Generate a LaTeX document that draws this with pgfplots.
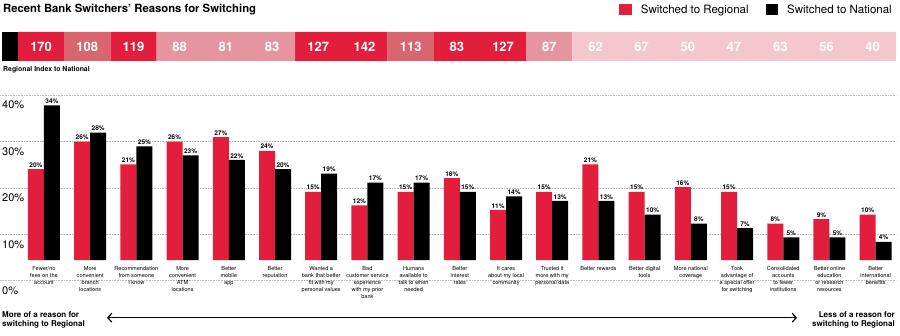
\documentclass[border=0pt]{standalone}
\usepackage{fontspec}
\setmainfont{TeX Gyre Heros}
\usepackage{pgfplots}
\usepackage{pgfplotstable}
\pgfplotsset{compat=1.18}
\usetikzlibrary{arrows.meta}
\definecolor{sred}{HTML}{E21E3C}
\definecolor{mred}{HTML}{D9656F}
\definecolor{lred}{HTML}{E5959E}
\definecolor{xred}{HTML}{F4C7CD}
\pgfplotsset{/pgf/number format/assume math mode=true}

\pgfplotstableread{
x reg nat
0 20 34
1 26 28
2 21 25
3 26 23
4 27 22
5 24 20
6 15 19
7 12 17
8 15 17
9 18 15
10 11 14
11 15 13
12 21 13
13 15 10
14 16 8
15 15 7
16 8 5
17 9 5
18 10 4
}\bars

\begin{document}
\begin{tikzpicture}
\path[use as bounding box] (0,0) rectangle (900pt,335pt);

% grid axis
\begin{axis}[
  at={(0pt,54.3pt)}, anchor=south west, scale only axis,
  width=896pt, height=185.7pt,
  xmin=0, xmax=1, ymin=0, ymax=40,
  xtick=\empty, ytick={0,10,20,30,40},
  ymajorgrids, grid style={gray!55, line width=0.6pt, dash pattern=on 0.8pt off 0.8pt},
  axis line style={draw=none}, major tick length=0pt,
  yticklabel={\pgfmathprintnumber{\tick}\%},
  yticklabel style={anchor=west, inner sep=0pt, xshift=2pt, yshift=-10pt, font=\fontsize{11}{11}\selectfont},
  clip=false,
]
\addplot[draw=none] coordinates {(0,0)};
\end{axis}

% index strip
\begin{axis}[
  at={(0pt,274pt)}, anchor=south west, scale only axis,
  width=896pt, height=29pt,
  xmin=-0.8896, xmax=18.504, ymin=0, ymax=1,
  hide axis, clip=false,
  every axis plot/.append style={ybar, bar shift=0pt, draw=none},
  nodes near coords, point meta=explicit symbolic,
  every node near coord/.append style={anchor=center, yshift=-14.5pt, text=white, font=\bfseries\fontsize{13}{13}\selectfont},
]
\addplot[fill=black, bar width=16pt, nodes near coords=] coordinates {(-0.673,1) []};
\addplot[fill=sred, bar width=46.2pt] coordinates {(0,1) [170] (2,1) [119] (6,1) [127] (7,1) [142] (9,1) [83] (10,1) [127]};
\addplot[fill=mred, bar width=46.2pt] coordinates {(1,1) [108] (8,1) [113]};
\addplot[fill=lred, bar width=46.2pt] coordinates {(3,1) [88] (4,1) [81] (5,1) [83] (11,1) [87]};
\addplot[fill=xred, bar width=46.2pt] coordinates {(12,1) [62] (13,1) [67] (14,1) [50] (15,1) [47] (16,1) [63] (17,1) [56] (18,1) [40]};
\end{axis}

% bars axis
\begin{axis}[
  at={(0pt,75pt)}, anchor=south west, scale only axis,
  width=896pt, height=182pt,
  xmin=-0.952, xmax=18.44, ymin=0, ymax=40,
  ybar=0pt, bar width=16pt,
  axis line style={draw=none}, major tick length=0pt,
  ytick=\empty,
  xtick={0,...,18},
  xticklabels={{Fewer/no\\fees on the\\account},{More\\convenient\\branch\\locations},{Recommendation\\from someone\\I know},{More\\convenient\\ATM\\locations},{Better\\mobile\\app},{Better\\reputation},{Wanted a\\bank that better\\fit with my\\personal values},{Bad\\customer service\\experience\\with my prior\\bank},{Humans\\available to\\talk to when\\needed},{Better\\interest\\rates},{It cares\\about my local\\community},{Trusted it\\more with my\\personal data},{Better rewards},{Better digital\\tools},{More national\\coverage},{Took\\advantage of\\a special offer\\for switching},{Consolidated\\accounts\\to fewer\\institutions},{Better online\\education\\or research\\resources},{Better\\international\\benefits}},
  xticklabel style={align=center, anchor=north, inner sep=0pt, yshift=-6.5pt, font=\fontsize{5.6}{7}\selectfont},
  nodes near coords={\pgfmathprintnumber{\pgfplotspointmeta}\%},
  every node near coord/.append style={font=\bfseries\fontsize{6.5}{6.5}\selectfont, inner sep=1.5pt, text=black},
  clip=false,
  legend style={at={(0.9955,1.4066)}, anchor=north east, draw=none, fill=none, legend columns=2,
    font=\fontsize{11.5}{12}\selectfont, inner sep=0pt, nodes={inner sep=0pt},
    /tikz/every odd column/.append style={column sep=9pt},
    /tikz/every even column/.append style={column sep=17pt}},
  legend image code/.code={\fill[#1] (0pt,-5pt) rectangle (12.5pt,6pt);},
]
\addplot[fill=sred, draw=none] table[x=x, y=reg] {\bars};
\addplot[fill=black, draw=none] table[x=x, y=nat] {\bars};
\legend{Switched to Regional, Switched to National}
\end{axis}

\node[anchor=base west, inner sep=0pt, font=\bfseries\fontsize{11.3}{11.3}\selectfont] at (3pt,322.3pt) {Recent Bank Switchers' Reasons for Switching};
\node[anchor=west, inner sep=0pt, font=\bfseries\fontsize{6.9}{7}\selectfont] at (3pt,265pt) {Regional Index to National};

\node[anchor=north west, align=left, inner sep=0pt, font=\bfseries\fontsize{8}{8.5}\selectfont] at (2pt,23.5pt) {More of a reason for\\switching to Regional};
\node[anchor=north east, align=right, inner sep=0pt, font=\bfseries\fontsize{8}{8.5}\selectfont] at (895pt,23.5pt) {Less of a reason for\\switching to Regional};
\draw[line width=1.2pt, {Straight Barb[length=4pt,width=9pt]}-{Straight Barb[length=4pt,width=9pt]}] (107pt,17.3pt) -- (797pt,17.3pt);
\end{tikzpicture}
\end{document}
